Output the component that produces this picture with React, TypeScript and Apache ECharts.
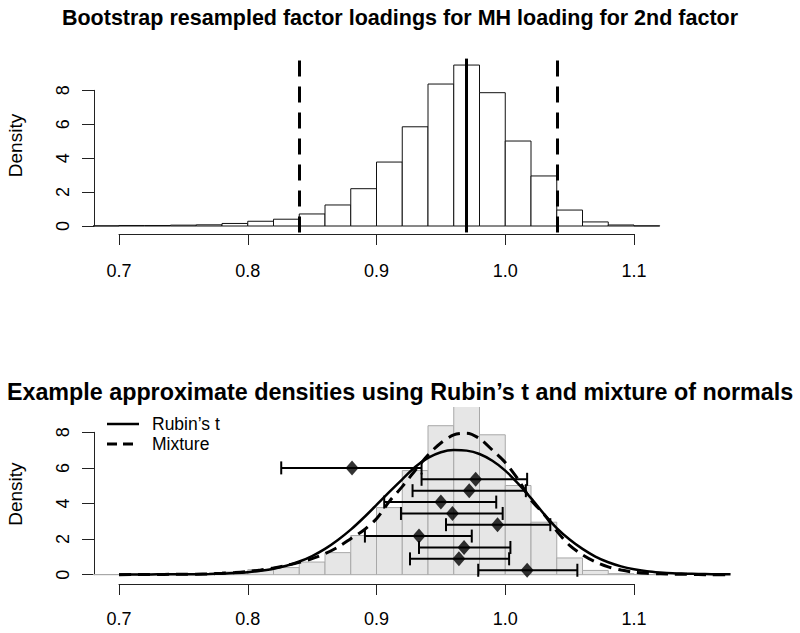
import React, { useEffect, useRef } from "react";
import * as echarts from "echarts";

// ---------- data ----------
const binEdges = [0.68, 0.70, 0.72, 0.74, 0.76, 0.78, 0.80, 0.82, 0.84, 0.86, 0.88, 0.90, 0.92, 0.94, 0.96, 0.98, 1.00, 1.02, 1.04, 1.06, 1.08, 1.10, 1.12];
const bootDensity = [0.01, 0.03, 0.03, 0.05, 0.07, 0.15, 0.28, 0.40, 0.71, 1.24, 2.20, 3.77, 5.85, 8.37, 9.49, 7.86, 5.01, 2.95, 0.94, 0.24, 0.06, 0.01];

const ciLower = 0.845;
const pointEstimate = 0.974;
const ciUpper = 1.041;

const xTickMin = 0.7;
const xTickMax = 1.1;
const xTickStep = 0.1;
const yTickMin = 0;
const yTickMax = 8;
const yTickStep = 2;

const curveX = [0.70, 0.71, 0.72, 0.73, 0.74, 0.75, 0.76, 0.77, 0.78, 0.79, 0.80, 0.81, 0.82, 0.83, 0.84, 0.85, 0.86, 0.87, 0.88, 0.89, 0.90, 0.91, 0.92, 0.93, 0.94, 0.95, 0.96, 0.97, 0.98, 0.99, 1.00, 1.01, 1.02, 1.03, 1.04, 1.05, 1.06, 1.07, 1.08, 1.09, 1.10, 1.11, 1.12, 1.13, 1.14, 1.15, 1.16, 1.175];
const rubinT = [0.01, 0.01, 0.01, 0.02, 0.02, 0.03, 0.03, 0.04, 0.06, 0.09, 0.14, 0.22, 0.33, 0.50, 0.74, 1.05, 1.45, 1.95, 2.53, 3.20, 3.92, 4.65, 5.36, 6.05, 6.56, 6.88, 7.00, 6.97, 6.78, 6.40, 5.85, 5.12, 4.30, 3.42, 2.62, 1.98, 1.45, 1.02, 0.70, 0.47, 0.31, 0.20, 0.13, 0.08, 0.06, 0.04, 0.03, 0.02];
const mixture = [0.00, 0.01, 0.01, 0.01, 0.02, 0.02, 0.03, 0.05, 0.08, 0.12, 0.18, 0.27, 0.38, 0.52, 0.69, 0.90, 1.18, 1.55, 2.02, 2.50, 3.15, 4.12, 4.95, 5.85, 6.72, 7.40, 7.85, 7.95, 7.65, 7.00, 6.30, 5.35, 4.20, 3.40, 2.45, 1.65, 1.12, 0.72, 0.44, 0.26, 0.14, 0.08, 0.05, 0.03, 0.02, 0.01, 0.00, 0.00];

const impEst = [0.881, 0.977, 0.972, 0.950, 0.959, 0.994, 0.933, 0.968, 0.964, 1.017];
const impLower = [0.826, 0.935, 0.928, 0.906, 0.919, 0.954, 0.891, 0.933, 0.926, 0.979];
const impUpper = [0.935, 1.017, 1.016, 0.993, 0.998, 1.035, 0.974, 1.004, 1.003, 1.056];
const impY = [6.0, 5.36, 4.72, 4.08, 3.44, 2.81, 2.17, 1.53, 0.89, 0.25];

const topTitle = "Bootstrap resampled factor loadings for MH loading for 2nd factor";
const bottomTitle = "Example approximate densities using Rubin\u2019s t and mixture of normals";
const yLabel = "Density";
const legendNames = ["Rubin\u2019s t", "Mixture"];

// ---------- layout ----------
const FONT = "'Liberation Sans', Arial, Helvetica, sans-serif";
const PX_PER_X = 1287.5;
const X_AT_07 = 119;
const DATA_XMIN = 0.68;
const DATA_XMAX = 1.19;
const DATA_LEFT = X_AT_07 - (xTickMin - DATA_XMIN) * PX_PER_X;
const DATA_WIDTH = (DATA_XMAX - DATA_XMIN) * PX_PER_X;
const AXIS_LEFT = X_AT_07;
const AXIS_WIDTH = (xTickMax - xTickMin) * PX_PER_X;
const YAXIS_X = 94;

// top panel
const T_PPU = 16.96;
const T_Y0 = 226;
const T_YMIN = -0.38;
const T_YMAX = 9.87;
// bottom panel
const B_PPU = 17.8;
const B_Y0 = 574.7;
const B_YMIN = -0.36;
const B_YMAX = 9.42;

function histRender(fill: string, stroke: string) {
  return (params: any, api: any) => {
    const x0 = api.value(0);
    const x1 = api.value(1);
    const h = api.value(2);
    const p0 = api.coord([x0, 0]);
    const p1 = api.coord([x1, h]);
    return {
      type: "polygon",
      shape: {
        points: [
          [p0[0], p0[1]],
          [p0[0], p1[1]],
          [p1[0], p1[1]],
          [p1[0], p0[1]],
        ],
      },
      style: { fill, stroke, lineWidth: 1 },
    };
  };
}

function xAxisVisible(gridIndex: number, margin: number) {
  return {
    gridIndex,
    type: "value",
    min: xTickMin,
    max: xTickMax,
    interval: xTickStep,
    position: "bottom",
    axisLine: { show: true, onZero: false, lineStyle: { color: "#222", width: 1 } },
    axisTick: { show: true, length: 11, lineStyle: { color: "#222", width: 1 } },
    axisLabel: {
      show: true,
      margin,
      fontSize: 18,
      lineHeight: 18,
      fontFamily: FONT,
      color: "#000",
      formatter: (v: number) => v.toFixed(1),
    },
    splitLine: { show: false },
  };
}

function yAxisVisible(gridIndex: number) {
  return {
    gridIndex,
    type: "value",
    min: yTickMin,
    max: yTickMax,
    interval: yTickStep,
    position: "left",
    axisLine: { show: true, onZero: false, lineStyle: { color: "#222", width: 1 } },
    axisTick: { show: true, length: 12, lineStyle: { color: "#222", width: 1 } },
    axisLabel: {
      show: true,
      rotate: 90,
      margin: 22,
      fontSize: 18,
      fontFamily: FONT,
      color: "#000",
    },
    splitLine: { show: false },
  };
}

function hiddenAxis(gridIndex: number, min: number, max: number) {
  return {
    gridIndex,
    type: "value",
    min,
    max,
    show: false,
    splitLine: { show: false },
    axisLine: { show: false },
    axisTick: { show: false },
    axisLabel: { show: false },
  };
}

export default function App() {
  const ref = useRef<HTMLDivElement>(null);

  useEffect(() => {
    if (!ref.current) return;
    const chart = echarts.init(ref.current, null, { renderer: "svg" });

    const tTop = T_Y0 - T_YMAX * T_PPU;
    const tHeight = (T_YMAX - T_YMIN) * T_PPU;
    const bTop = B_Y0 - B_YMAX * B_PPU;
    const bHeight = (B_YMAX - B_YMIN) * B_PPU;

    const tAxisLineY = 234;
    const bAxisLineY = 584;

    const option: any = {
      animation: false,
      backgroundColor: "#fff",
      title: [
        {
          text: topTitle,
          left: "center",
          top: 7,
          padding: 0,
          textStyle: { fontSize: 21.5, fontWeight: "bold", fontFamily: FONT, color: "#000", lineHeight: 22 },
        },
        {
          text: bottomTitle,
          left: "center",
          top: 380,
          padding: 0,
          textStyle: { fontSize: 23.3, fontWeight: "bold", fontFamily: FONT, color: "#000", lineHeight: 24 },
        },
      ],
      grid: [
        { left: DATA_LEFT, top: tTop, width: DATA_WIDTH, height: tHeight },
        { left: YAXIS_X, top: T_Y0 - yTickMax * T_PPU, width: 10, height: yTickMax * T_PPU },
        { left: AXIS_LEFT, top: tAxisLineY - 30, width: AXIS_WIDTH, height: 30 },
        { left: DATA_LEFT, top: bTop, width: DATA_WIDTH, height: bHeight },
        { left: YAXIS_X, top: B_Y0 - yTickMax * B_PPU, width: 10, height: yTickMax * B_PPU },
        { left: AXIS_LEFT, top: bAxisLineY - 30, width: AXIS_WIDTH, height: 30 },
      ],
      xAxis: [
        hiddenAxis(0, DATA_XMIN, DATA_XMAX),
        hiddenAxis(1, 0, 1),
        xAxisVisible(2, 28),
        hiddenAxis(3, DATA_XMIN, DATA_XMAX),
        hiddenAxis(4, 0, 1),
        xAxisVisible(5, 26),
      ],
      yAxis: [
        hiddenAxis(0, T_YMIN, T_YMAX),
        yAxisVisible(1),
        hiddenAxis(2, 0, 1),
        hiddenAxis(3, B_YMIN, B_YMAX),
        yAxisVisible(4),
        hiddenAxis(5, 0, 1),
      ],
      graphic: [
        {
          type: "text",
          x: 15,
          y: (tTop + tTop + tHeight) / 2,
          rotation: Math.PI / 2,
          style: { text: yLabel, font: `19px ${FONT}`, fill: "#000", align: "center", verticalAlign: "middle", textAlign: "center", textVerticalAlign: "middle" },
        },
        {
          type: "text",
          x: 15,
          y: (bTop + bTop + bHeight) / 2,
          rotation: Math.PI / 2,
          style: { text: yLabel, font: `19px ${FONT}`, fill: "#000", align: "center", verticalAlign: "middle", textAlign: "center", textVerticalAlign: "middle" },
        },
        {
          type: "line",
          shape: { x1: 107, y1: 424, x2: 139, y2: 424 },
          style: { stroke: "#000", lineWidth: 2.5 },
        },
        {
          type: "line",
          shape: { x1: 107, y1: 444, x2: 139, y2: 444 },
          style: { stroke: "#000", lineWidth: 3, lineDash: [10, 6] },
        },
        {
          type: "text",
          x: 152,
          y: 424,
          style: { text: legendNames[0], font: `17.5px ${FONT}`, fill: "#000", align: "left", verticalAlign: "middle", textAlign: "left", textVerticalAlign: "middle" },
        },
        {
          type: "text",
          x: 152,
          y: 444,
          style: { text: legendNames[1], font: `17.5px ${FONT}`, fill: "#000", align: "left", verticalAlign: "middle", textAlign: "left", textVerticalAlign: "middle" },
        },
      ],
      series: [
        {
          name: "Bootstrap histogram",
          type: "custom",
          xAxisIndex: 0,
          yAxisIndex: 0,
          clip: true,
          renderItem: histRender("#ffffff", "#111"),
          data: bootDensity.map((d, i) => [binEdges[i], binEdges[i + 1], d]),
        },
        {
          name: "Reference lines",
          type: "line",
          xAxisIndex: 0,
          yAxisIndex: 0,
          data: [],
          markLine: {
            silent: true,
            symbol: "none",
            label: { show: false },
            data: [
              { xAxis: ciLower, lineStyle: { color: "#000", width: 3, type: [16, 10] } },
              { xAxis: pointEstimate, lineStyle: { color: "#000", width: 3, type: "solid" } },
              { xAxis: ciUpper, lineStyle: { color: "#000", width: 3, type: [16, 10] } },
            ],
          },
        },
        {
          name: "Bootstrap histogram (grey)",
          type: "custom",
          xAxisIndex: 3,
          yAxisIndex: 3,
          clip: true,
          renderItem: histRender("#e6e6e6", "#a8a8a8"),
          data: bootDensity.map((d, i) => [binEdges[i], binEdges[i + 1], d]),
        },
        {
          name: legendNames[0],
          type: "line",
          xAxisIndex: 3,
          yAxisIndex: 3,
          symbol: "none",
          smooth: 0.3,
          lineStyle: { color: "#000", width: 2.5 },
          data: curveX.map((x, i) => [x, rubinT[i]]),
        },
        {
          name: legendNames[1],
          type: "line",
          xAxisIndex: 3,
          yAxisIndex: 3,
          symbol: "none",
          smooth: 0.3,
          lineStyle: { color: "#000", width: 3, type: [12, 7] },
          data: curveX.map((x, i) => [x, mixture[i]]),
        },
        {
          name: "Intervals",
          type: "custom",
          xAxisIndex: 3,
          yAxisIndex: 3,
          renderItem: (params: any, api: any) => {
            const lo = api.coord([api.value(0), api.value(2)]);
            const hi = api.coord([api.value(1), api.value(2)]);
            const cap = 6.5;
            const st = { stroke: "#000", lineWidth: 2 };
            return {
              type: "group",
              children: [
                { type: "line", shape: { x1: lo[0], y1: lo[1], x2: hi[0], y2: hi[1] }, style: st },
                { type: "line", shape: { x1: lo[0], y1: lo[1] - cap, x2: lo[0], y2: lo[1] + cap }, style: st },
                { type: "line", shape: { x1: hi[0], y1: hi[1] - cap, x2: hi[0], y2: hi[1] + cap }, style: st },
              ],
            };
          },
          data: impY.map((y, i) => [impLower[i], impUpper[i], y]),
        },
        {
          name: "Estimates",
          type: "scatter",
          xAxisIndex: 3,
          yAxisIndex: 3,
          symbol: "diamond",
          symbolSize: [13, 15],
          itemStyle: { color: "#000" },
          data: impY.map((y, i) => [impEst[i], y]),
        },
      ],
    };

    chart.setOption(option);
    return () => chart.dispose();
  }, []);

  return (
    <div
      ref={ref}
      style={{ position: "absolute", left: 0, top: 0, width: 800, height: 633, background: "#fff" }}
    />
  );
}
